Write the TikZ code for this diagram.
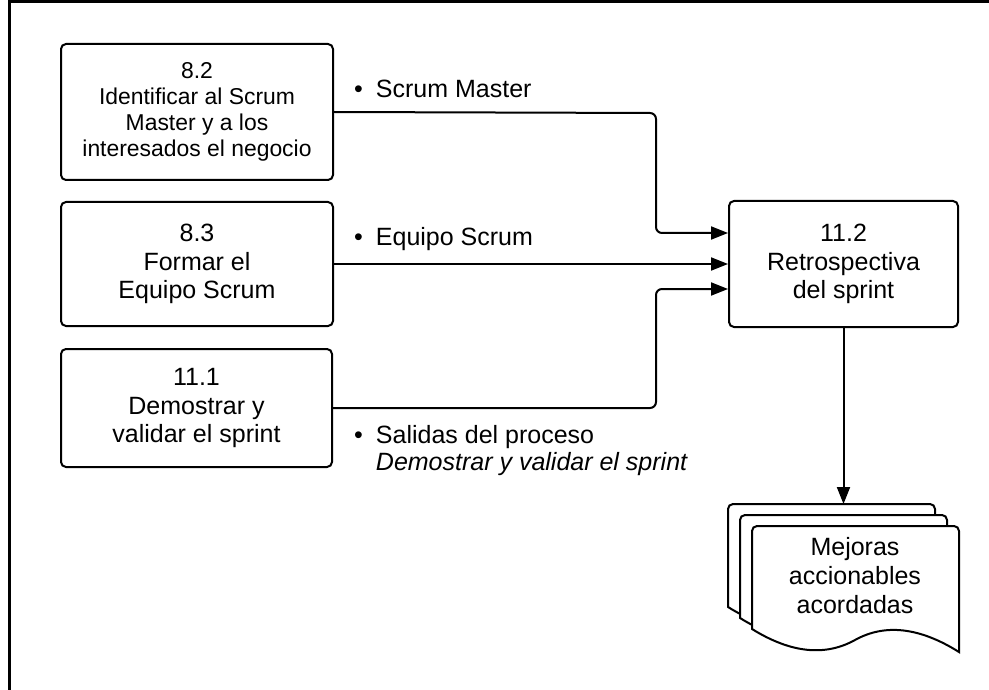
\documentclass[tikz,border=0pt]{standalone}
\usepackage{fontspec}
\setmainfont{Liberation Sans}
\usetikzlibrary{arrows.meta,calc}
\begin{document}
\begin{tikzpicture}[x=1pt,y=-1pt,
  box/.style={draw, line width=2pt, rounded corners=5pt, align=center, inner sep=0pt,
    font=\fontsize{25}{28.5}\selectfont},
  arr/.style={line width=2pt, -{Triangle[length=17pt,width=13pt]}, rounded corners=6pt},
  lbl/.style={inner sep=0pt, font=\fontsize{25}{27}\selectfont, align=left},
  sheet/.style={draw, line width=2pt, fill=white},
  frame/.style={line width=3pt}]
\useasboundingbox (0,0) rectangle (989,690);
% outer frame
\draw[frame] (9,690) -- (9,2) -- (989,2);

% process boxes
\node[box, minimum width=272pt, minimum height=136pt, font=\fontsize{22.9}{26}\selectfont] (b82) at (197,112)
  {8.2\\Identificar al Scrum\\Master y a los\\interesados el negocio};
\node[box, minimum width=272pt, minimum height=124pt] (b83) at (197,264)
  {8.3\\Formar el\\Equipo Scrum};
\node[box, minimum width=271pt, minimum height=118pt] (b111) at (196.5,408)
  {11.1\\Demostrar y\\validar el sprint};
\node[box, minimum width=229pt, minimum height=126pt] (b112) at (843.5,264)
  {11.2\\Retrospectiva\\del sprint};

% document stack
\foreach \dx/\dy in {-24/-22,-12/-11,0/0}{
  \begin{scope}[shift={(\dx,\dy)}]
    \draw[sheet] (752,629) [rounded corners=5pt] -- (752,526) -- (959,526) [sharp corners] -- (959,652)
      .. controls (919.67,627.33) and (885,623.33) .. (855,640)
      .. controls (825,656.67) and (790.67,653) .. (752,629) -- cycle;
  \end{scope}
}
\node[inner sep=0pt, align=center, font=\fontsize{25}{29}\selectfont] (doc) at (855,576)
  {Mejoras\\accionables\\acordadas};
\coordinate (docTop) at (843.5,504);

% connectors
\coordinate (j1) at (656,113);
\coordinate (j3) at (656,408);
\draw[arr] (b82.east) -- (j1) -- (j1 |- {(0,233)}) -- ($(b112.west)+(0,-31)$);
\draw[arr] (b83.east) -- (b112.west);
\draw[arr] (b111.east) -- (j3) -- (j3 |- {(0,289)}) -- ($(b112.west)+(0,25)$);
\draw[arr] (b112.south) -- (b112.south |- docTop);

% labels
\node[lbl, anchor=base west] (l1) at (354,98) {•\hspace{13pt}Scrum Master};
\node[lbl, anchor=base west] (l2) at (354,246) {•\hspace{13pt}Equipo Scrum};
\node[lbl, anchor=base west] (l3) at (354,443)
  {\begin{tabular}[t]{@{}l@{\hspace{13pt}}l@{}}•&Salidas del proceso\\ &\textit{Demostrar y validar el sprint}\end{tabular}};
\end{tikzpicture}
\end{document}
